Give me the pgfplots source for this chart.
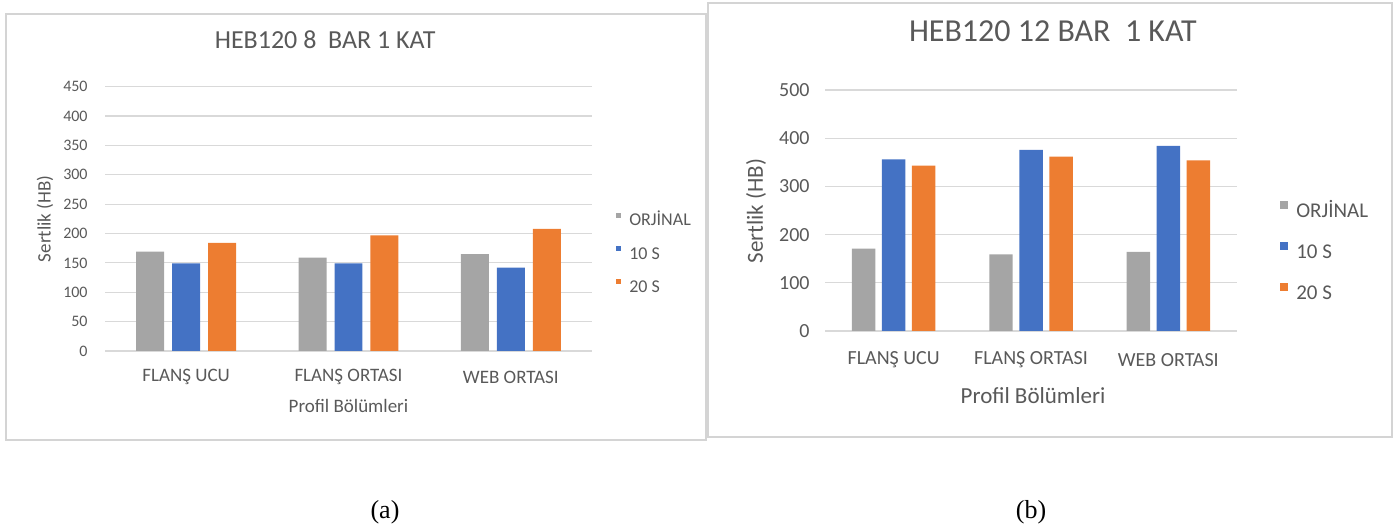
\documentclass[border=0pt]{standalone}
\usepackage{pgfplots}
\pgfplotsset{compat=1.18}
\usepackage{fontspec}
\setmainfont{Carlito}
\newfontfamily\capfont{Liberation Serif}

\definecolor{orjgray}{HTML}{A5A5A5}
\definecolor{tenblue}{HTML}{4472C4}
\definecolor{twentyorange}{HTML}{ED7D31}
\definecolor{txtgray}{HTML}{595959}
\definecolor{gridgray}{HTML}{D9D9D9}
\definecolor{framegray}{HTML}{D4D4D4}

\pgfplotsset{
  excelbars/.style={
    ybar,
    scale only axis,
    anchor=south west,
    axis line style={draw=none},
    major tick length=0pt,
    ymajorgrids,
    grid style={gridgray, line width=0.6pt},
    xtick=data,
    xticklabels={FLANŞ UCU, FLANŞ ORTASI, WEB ORTASI},
    xmin=-0.5, xmax=2.5,
    ymin=0,
    /pgf/number format/assume math mode=true,
    tick label style={text=txtgray},
    yticklabel style={anchor=east, inner sep=0pt},
    xticklabel style={anchor=center, inner sep=0pt},
    label style={text=txtgray, anchor=center, inner sep=0pt},
    title style={text=txtgray, anchor=center, inner sep=0pt},
    legend cell align=left,
    legend style={draw=none, fill=none, anchor=west, inner sep=0pt,
      nodes={inner sep=0pt, text=txtgray}},
  },
}

\begin{document}
\begin{tikzpicture}
\useasboundingbox (0pt,0pt) rectangle (698.5pt,264.5pt);
\draw[framegray, line width=0.8pt] (3pt,44.5pt) rectangle (353pt,257.5pt);
\draw[framegray, line width=0.8pt] (354pt,46pt) rectangle (696pt,263pt);

% (a) 8 bar
\begin{axis}[
  excelbars,
  at={(52.5pt,89pt)},
  width=243.5pt, height=132.15pt,
  bar width=0.172,
  ymax=450, ytick={0,50,...,450},
  yticklabel style={xshift=-8.5pt, font=\fontsize{8}{10}\selectfont},
  xticklabel style={yshift=-13pt, font=\fontsize{9.5}{11}\selectfont},
  title={HEB120 8~~BAR 1 KAT},
  title style={at={(0.452,1.133)}, font=\fontsize{13}{15}\selectfont},
  xlabel={Profil Bölümleri},
  xlabel style={at={(0.5,-0.208)}, font=\fontsize{9.5}{11}\selectfont},
  ylabel={Sertlik (HB)},
  ylabel style={at={(-0.123,0.5)}, font=\fontsize{9.5}{11}\selectfont},
  legend style={at={(1.049,0.367)}, row sep=8.5pt,
    nodes={text height=6.5pt, text depth=1.5pt},
    font=\fontsize{9}{11}\selectfont},
  legend image code/.code={\fill[#1, draw=none] (0pt,1.65pt) rectangle (2.5pt,4.15pt);},
  /tikz/every odd column/.append style={column sep=4pt},
]
\addplot[fill=orjgray, draw=none, bar shift=-0.2215] coordinates {(0,169) (1,159) (2,165)};
\addplot[fill=tenblue, draw=none, bar shift=0] coordinates {(0,149) (1,149) (2,142)};
\addplot[fill=twentyorange, draw=none, bar shift=0.2215] coordinates {(0,184) (1,197) (2,208)};
\legend{ORJİNAL, 10 S, 20 S}
\end{axis}

% (b) 12 bar
\begin{axis}[
  excelbars,
  at={(412.5pt,99pt)},
  width=206pt, height=120.5pt,
  bar width=0.171,
  ymax=500, ytick={0,100,...,500},
  yticklabel style={xshift=-7.5pt, font=\fontsize{10}{12}\selectfont},
  xticklabel style={yshift=-14.5pt, font=\fontsize{10}{12}\selectfont},
  title={HEB120 12 BAR~~1 KAT},
  title style={at={(0.553,1.195)}, font=\fontsize{16}{18}\selectfont},
  xlabel={Profil Bölümleri},
  xlabel style={at={(0.505,-0.266)}, font=\fontsize{11.5}{13}\selectfont},
  ylabel={Sertlik (HB)},
  ylabel style={at={(-0.1675,0.498)}, font=\fontsize{11.5}{13}\selectfont},
  legend style={at={(1.104,0.326)}, row sep=10.25pt,
    nodes={text height=7.5pt, text depth=2pt},
    font=\fontsize{10.5}{12}\selectfont},
  legend image code/.code={\fill[#1, draw=none] (0pt,1.4pt) rectangle (4pt,5.4pt);},
  /tikz/every odd column/.append style={column sep=4pt},
]
\addplot[fill=orjgray, draw=none, bar shift=-0.2185] coordinates {(0,171) (1,159) (2,164)};
\addplot[fill=tenblue, draw=none, bar shift=0] coordinates {(0,356) (1,376) (2,384)};
\addplot[fill=twentyorange, draw=none, bar shift=0.2185] coordinates {(0,343) (1,362) (2,354)};
\legend{ORJİNAL, 10 S, 20 S}
\end{axis}

\node[font=\capfont\fontsize{13}{15}\selectfont] at (192.5pt,8.5pt) {(a)};
\node[font=\capfont\fontsize{13}{15}\selectfont] at (515.5pt,8.5pt) {(b)};
\end{tikzpicture}
\end{document}
